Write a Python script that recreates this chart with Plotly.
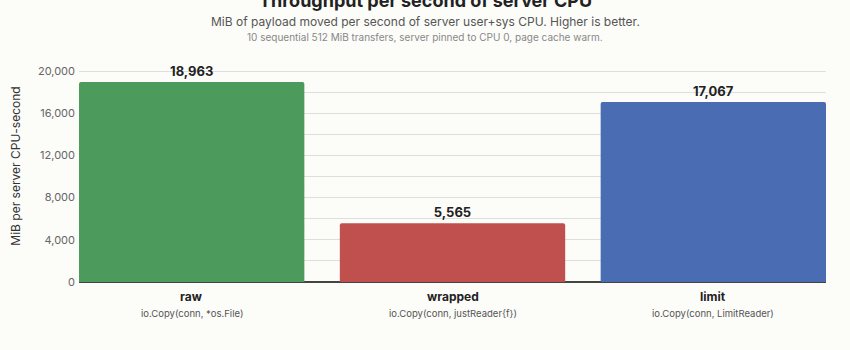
import plotly.graph_objects as go

categories = ["raw", "wrapped", "limit"]
descriptions = ["io.Copy(conn, *os.File)", "io.Copy(conn, justReader{f})", "io.Copy(conn, LimitReader)"]
values = [18963, 5565, 17067]
colors = ["#4c9a5c", "#c0504d", "#4a6cb3"]
tick_values = [0, 4000, 8000, 12000, 16000, 20000]
tick_labels = ["0", "4,000", "8,000", "12,000", "16,000", "20,000"]

FONT = "Inter, Liberation Sans, Arial, sans-serif"

fig = go.Figure()
fig.add_trace(go.Bar(
    x=list(range(len(categories))),
    y=values,
    marker=dict(color=colors, line=dict(width=0)),
    width=0.864,
    text=[f"<b>{v:,}</b>" for v in values],
    textposition="outside",
    textfont=dict(size=13, color="#222", family=FONT),
    cliponaxis=False,
    hoverinfo="skip",
))

annotations = []
for i, (c, d) in enumerate(zip(categories, descriptions)):
    annotations.append(dict(x=i, y=(282 - 296) / 232, xref="x", yref="paper",
                            text=f"<b>{c}</b>", showarrow=False,
                            font=dict(size=12, color="#222", family=FONT),
                            xanchor="center", yanchor="middle"))
    annotations.append(dict(x=i, y=(282 - 313) / 232, xref="x", yref="paper",
                            text=d, showarrow=False,
                            font=dict(size=9.5, color="#555", family=FONT),
                            xanchor="center", yanchor="middle"))

cx = (425 - 79) / 747
annotations += [
    dict(x=cx, y=(282 - 1) / 232, xref="paper", yref="paper",
         text="<b>Throughput per second of server CPU</b>", showarrow=False,
         font=dict(size=18, color="#222", family=FONT), xanchor="center", yanchor="middle"),
    dict(x=cx, y=(282 - 21) / 232, xref="paper", yref="paper",
         text="MiB of payload moved per second of server user+sys CPU. Higher is better.",
         showarrow=False, font=dict(size=12, color="#555", family=FONT),
         xanchor="center", yanchor="middle"),
    dict(x=cx, y=(282 - 37) / 232, xref="paper", yref="paper",
         text="10 sequential 512 MiB transfers, server pinned to CPU 0, page cache warm.",
         showarrow=False, font=dict(size=10, color="#888", family=FONT),
         xanchor="center", yanchor="middle"),
]

fig.update_layout(
    width=850, height=350,
    margin=dict(l=79, r=24, t=50, b=68),
    paper_bgcolor="#fcfcf9",
    plot_bgcolor="#fcfcf9",
    showlegend=False,
    barcornerradius=2,
    annotations=annotations,
    font=dict(family=FONT),
    xaxis=dict(range=[-0.432, 2.432], showticklabels=False, showgrid=False,
               zeroline=False, showline=False, ticks=""),
    yaxis=dict(range=[0, 22000], dtick=2000,
               showgrid=True, gridcolor="#dedede", gridwidth=1,
               zeroline=True, zerolinecolor="#444", zerolinewidth=1.5,
               showticklabels=False, ticks=""),
    yaxis2=dict(overlaying="y", range=[0, 22000], tickmode="array",
                tickvals=tick_values, ticktext=tick_labels,
                showgrid=False, zeroline=False, side="left",
                ticklabelstandoff=3,
                tickfont=dict(size=11, color="#666", family=FONT),
                title=dict(text="MiB per server CPU-second", standoff=14,
                           font=dict(size=12, color="#333", family=FONT))),
)
fig.add_trace(go.Scatter(x=[None], y=[None], yaxis="y2", showlegend=False, hoverinfo="skip"))

fig.write_html("out.html")
